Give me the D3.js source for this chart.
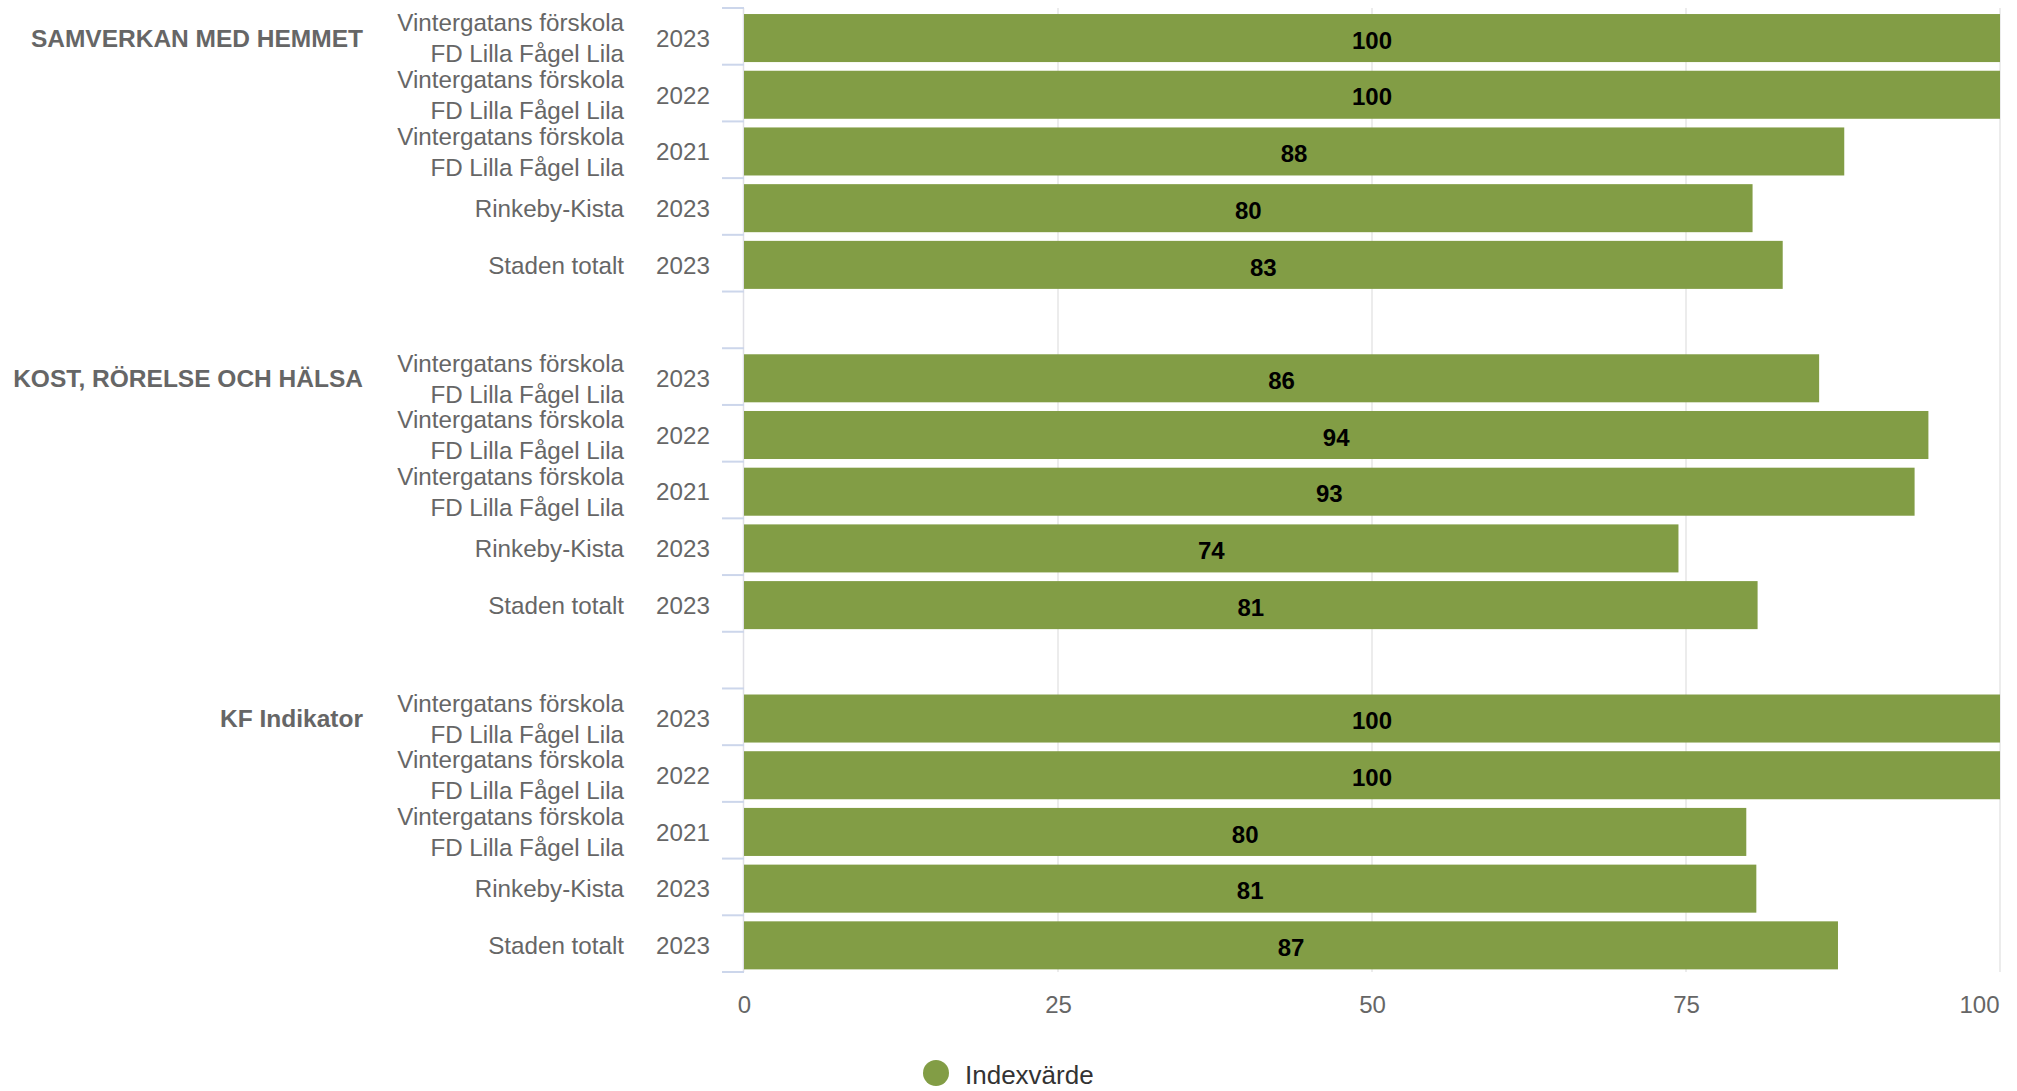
<!DOCTYPE html>
<html>
<head>
<meta charset="utf-8">
<script src="https://cdn.jsdelivr.net/npm/d3@7"></script>
<style>
  body { margin: 0; background: #fff; }
  svg { display: block; font-family: "Liberation Sans", Arial, Helvetica, sans-serif; }
</style>
</head>
<body>
<svg id="chart" width="2017" height="1091"></svg>
<script>
const width = 2017;
const height = 1091;

// grupper, rader och värden
const groups = ["SAMVERKAN MED HEMMET", "KOST, RÖRELSE OCH HÄLSA", "KF Indikator"];
const rowNames = [
    ["Vintergatans förskola", "FD Lilla Fågel Lila"],
    ["Vintergatans förskola", "FD Lilla Fågel Lila"],
    ["Vintergatans förskola", "FD Lilla Fågel Lila"],
    ["Rinkeby-Kista"],
    ["Staden totalt"]
];
const rowYears = ["2023", "2022", "2021", "2023", "2023"];
const values = [
    [100, 100, 87.6, 80.3, 82.7],
    [85.6, 94.3, 93.2, 74.4, 80.7],
    [100, 100, 79.8, 80.6, 87.1]
];
const xTicks = [0, 25, 50, 75, 100];
const seriesName = "Indexvärde";

const barColor = "#829d45";

// bygg kategorier, med en tom rad mellan grupperna
const cats = [];
groups.forEach((g, gi) => {
    rowNames.forEach((n, ri) => {
        cats.push({ key: gi + "-" + ri, group: g, gi, ri, name: n, year: rowYears[ri], value: values[gi][ri] });
    });
    if (gi < groups.length - 1) cats.push({ key: "gap" + gi, gap: true });
});

const plotLeft = 744, plotRight = 2000, plotTop = 8, plotBottom = 972;

const x = d3.scaleLinear().domain([0, 100]).range([plotLeft, plotRight]);
const y = d3.scaleBand().domain(cats.map(d => d.key)).range([plotTop, plotBottom]);

const svg = d3.select("#chart");

// rutnät
svg.append("g")
    .selectAll("line")
    .data(xTicks.slice(1))
    .join("line")
    .attr("x1", d => x(d)).attr("x2", d => x(d))
    .attr("y1", plotTop).attr("y2", plotBottom)
    .attr("stroke", "#e6e6e6")
    .attr("stroke-width", 1.5);

// y-axelns linje och streck mellan kategorier
svg.append("line")
    .attr("x1", plotLeft - 0.5).attr("x2", plotLeft - 0.5)
    .attr("y1", plotTop).attr("y2", plotBottom)
    .attr("stroke", "#e0e0e6")
    .attr("stroke-width", 1.5);

const bounds = cats.map(d => y(d.key)).concat([plotBottom]);
svg.append("g")
    .selectAll("line")
    .data(bounds)
    .join("line")
    .attr("x1", plotLeft - 22).attr("x2", plotLeft)
    .attr("y1", d => d).attr("y2", d => d)
    .attr("stroke", "#ccd6eb")
    .attr("stroke-width", 2);

const rows = cats.filter(d => !d.gap);
const barH = y.bandwidth() * 0.847;
const barOff = (y.bandwidth() - barH) / 2 + 1.7;

// staplar
svg.append("g")
    .selectAll("rect")
    .data(rows)
    .join("rect")
    .attr("x", x(0))
    .attr("y", d => y(d.key) + barOff)
    .attr("width", d => x(d.value) - x(0))
    .attr("height", barH)
    .attr("fill", barColor);

// värdeetiketter
svg.append("g")
    .selectAll("text")
    .data(rows)
    .join("text")
    .attr("x", d => (x(0) + x(d.value)) / 2)
    .attr("y", d => y(d.key) + y.bandwidth() / 2 + 4)
    .attr("dy", "0.35em")
    .attr("text-anchor", "middle")
    .attr("font-size", 24)
    .attr("font-weight", "bold")
    .attr("fill", "#000")
    .text(d => Math.round(d.value));

// kategorietiketter
const labels = svg.append("g").attr("fill", "#666").attr("font-size", 24.2);

labels.selectAll(".year")
    .data(rows)
    .join("text")
    .attr("class", "year")
    .attr("x", 683)
    .attr("y", d => y(d.key) + y.bandwidth() / 2 + 2)
    .attr("dy", "0.35em")
    .attr("text-anchor", "middle")
    .text(d => d.year);

labels.selectAll(".name")
    .data(rows)
    .join("text")
    .attr("class", "name")
    .attr("text-anchor", "end")
    .each(function (d) {
        const cy = y(d.key) + y.bandwidth() / 2 + 2;
        const n = d.name.length;
        d3.select(this).selectAll("tspan")
            .data(d.name)
            .join("tspan")
            .attr("x", 624)
            .attr("y", (t, i) => cy + (i - (n - 1) / 2) * 31)
            .attr("dy", "0.35em")
            .text(t => t);
    });

labels.selectAll(".group")
    .data(rows.filter(d => d.ri === 0))
    .join("text")
    .attr("class", "group")
    .attr("x", 363)
    .attr("y", d => y(d.key) + y.bandwidth() / 2 + 2)
    .attr("dy", "0.35em")
    .attr("text-anchor", "end")
    .attr("font-size", 24.5)
    .attr("font-weight", "bold")
    .text(d => d.group);

// x-axel
const xAxis = svg.append("g")
    .attr("transform", `translate(0,${plotBottom})`)
    .call(d3.axisBottom(x).tickValues(xTicks).tickSize(0).tickPadding(24));
xAxis.select(".domain").remove();
xAxis.selectAll("text")
    .attr("font-size", 24)
    .attr("font-family", "\"Liberation Sans\", Arial, sans-serif")
    .attr("fill", "#666");
xAxis.selectAll(".tick").filter(d => d === 100).select("text")
    .attr("text-anchor", "end")
    .attr("x", -1);

// teckenförklaring
const legend = svg.append("g");
legend.append("circle")
    .attr("cx", 936).attr("cy", 1073).attr("r", 13)
    .attr("fill", barColor);
legend.append("text")
    .attr("x", 965).attr("y", 1075)
    .attr("dy", "0.35em")
    .attr("font-size", 26)
    .attr("fill", "#333")
    .text(seriesName);
</script>
</body>
</html>
